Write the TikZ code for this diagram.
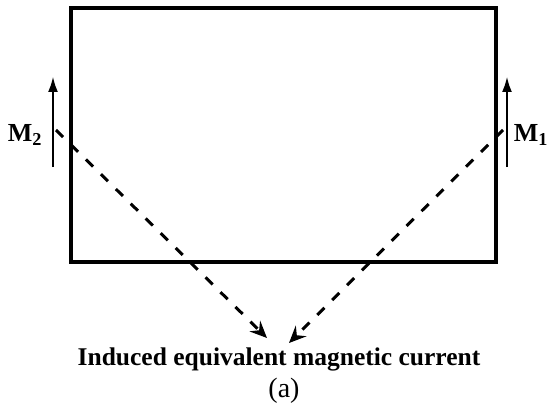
\documentclass[tikz,border=0pt]{standalone}
\usepackage{fontspec}
\setmainfont{Liberation Serif}
\usetikzlibrary{arrows.meta}
\begin{document}
\begin{tikzpicture}[x=1pt,y=-1pt,
  box/.style={line width=3.5pt},
  marrow/.style={line width=2.8pt,-{Latex[length=16pt,width=10pt]}},
  dline/.style={line width=3pt,dash pattern=on 10pt off 11pt,-{Stealth[length=17pt,width=15pt,inset=6pt]}},
  lab/.style={inner sep=0pt,font=\fontsize{26}{29}\selectfont\bfseries},
  txtlab/.style={inner sep=0pt,font=\fontsize{25.5}{29}\selectfont\bfseries},
  captxt/.style={inner sep=0pt,font=\fontsize{28}{31}\selectfont}]
\useasboundingbox (0,0) rectangle (547,404);
\draw[box] (71,8) rectangle (496,262);
\coordinate (m2a) at (53,167);
\coordinate (m2b) at (53,76);
\coordinate (m1a) at (507,167);
\coordinate (m1b) at (507,76);
\draw[marrow] (m2a) -- (m2b);
\draw[marrow] (m1a) -- (m1b);
\node[lab] (M2) at (25,135) {M\textsubscript{2}};
\node[lab] (M1) at (531,135) {M\textsubscript{1}};
\coordinate (s2) at (56,130);
\coordinate (s1) at (503,130);
\coordinate (t2) at (267,338);
\coordinate (t1) at (289,343);
\draw[dline] (s2) -- (t2);
\draw[dline] (s1) -- (t1);
\node[txtlab] (txt) at (279,359) {Induced equivalent magnetic current};
\node[captxt] (a) at (284,391) {(a)};
\end{tikzpicture}
\end{document}
